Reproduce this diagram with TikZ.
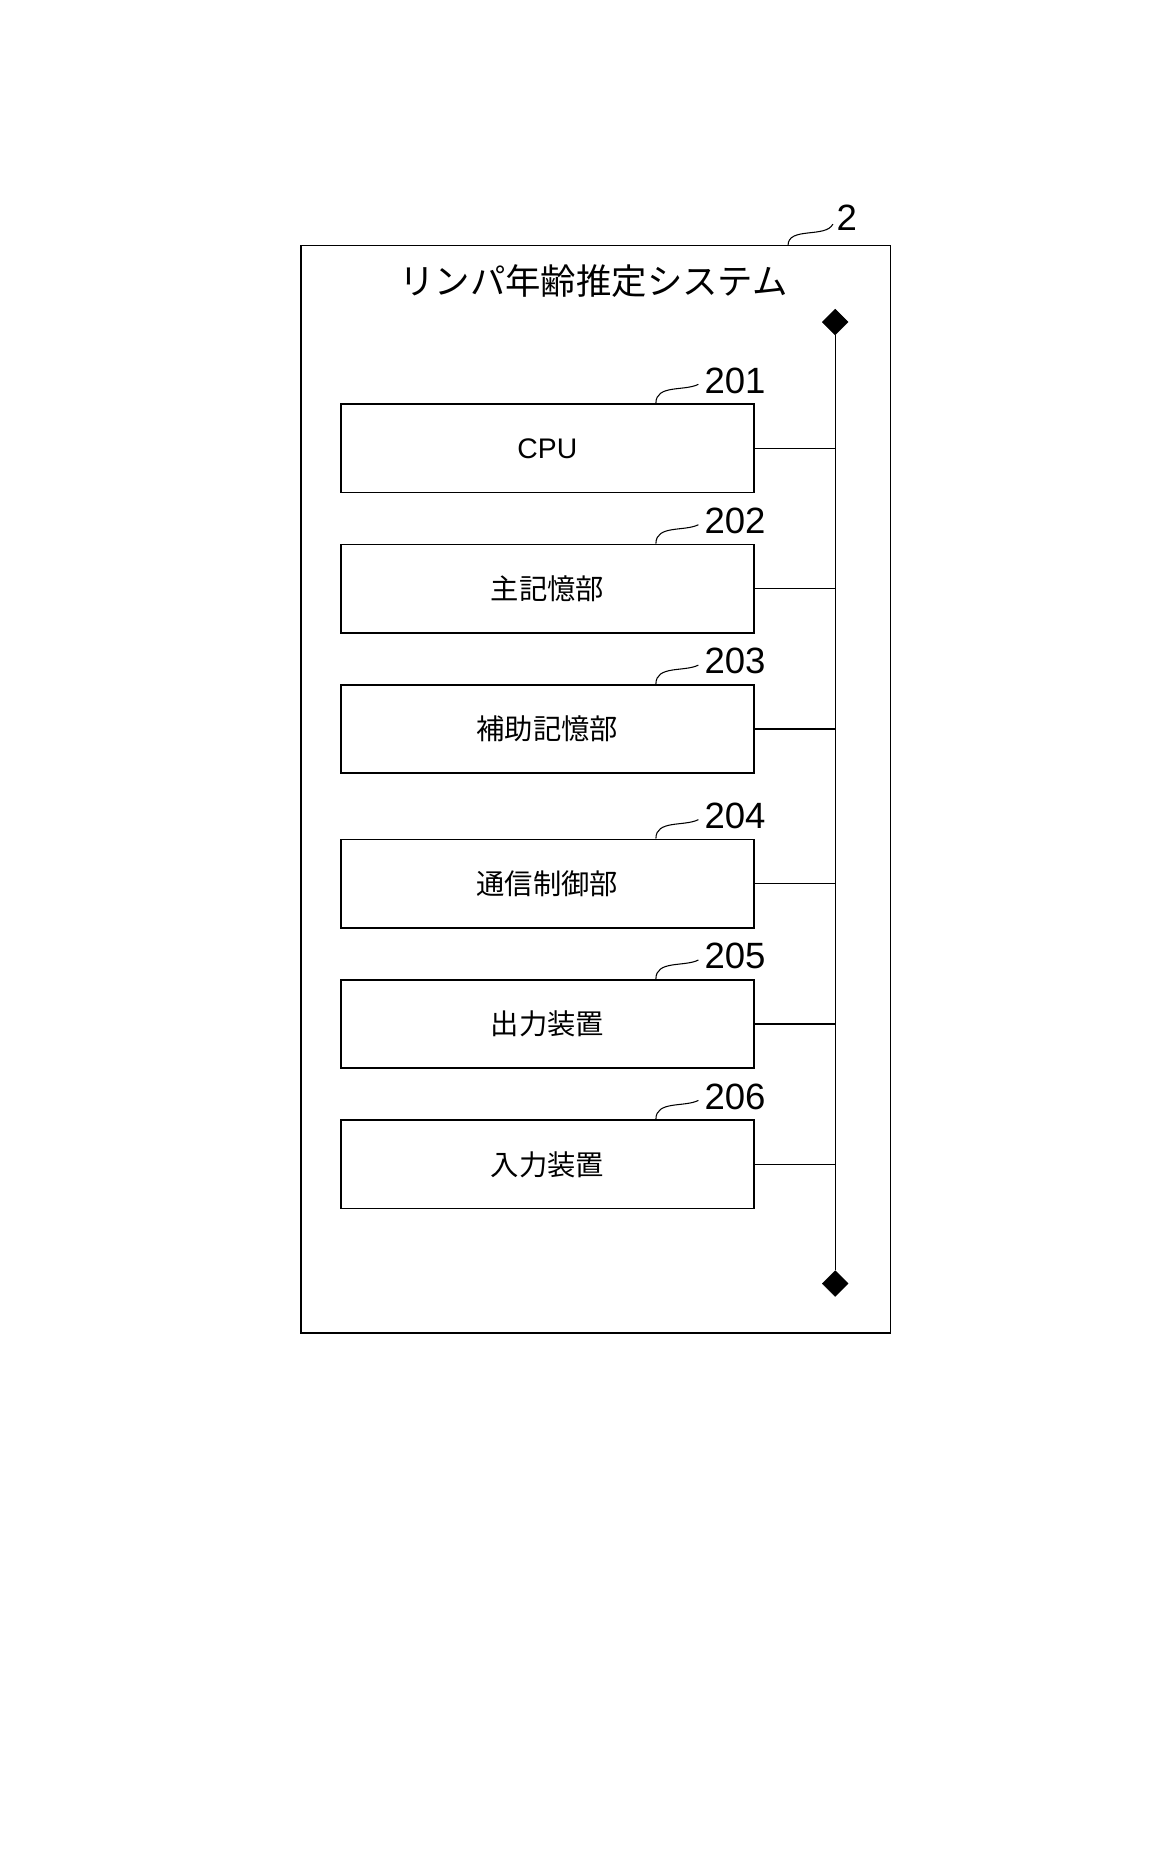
\documentclass[tikz,border=0pt]{standalone}
\usepackage{fontspec}
\setmainfont{Liberation Sans}
\newfontfamily\cjk{Noto Sans CJK JP}
\usetikzlibrary{positioning,shapes.geometric}

\begin{document}
\begin{tikzpicture}[
    x=1pt, y=-1pt,
    unit/.style={draw, line width=1.4pt, minimum width=350pt, minimum height=75pt, inner sep=0pt, font=\cjk\fontsize{24}{26}\selectfont},
    refnum/.style={font=\fontsize{31}{33}\selectfont, inner sep=1pt},
    tick/.style={draw, line width=0.9pt},
    link/.style={draw, line width=1pt},
    busend/.style={diamond, fill=black, draw, inner sep=0pt, minimum size=22pt}
]
\useasboundingbox (0,0) rectangle (975,1575);

% Outer system frame
\node[draw, line width=1.4pt, minimum width=500pt, minimum height=922pt, inner sep=0pt] (sys) at (505,669) {};
\node[font=\cjk\fontsize{30}{32}\selectfont] (title) at (503,238) {リンパ年齢推定システム};
\node[refnum, anchor=south west] (sysnum) at (708,197) {2};
\draw[tick] (668,208) .. controls (668,192) and (700,202) .. (706,190);

% Bus
\node[busend] (top) at (708,273) {};
\node[busend] (bot) at (708,1088) {};
\draw[link] (top) -- (bot);

% Units
\node[unit] (cpu) at (464,380) {\fontspec{Liberation Sans}CPU};
\node[unit] (main) at (464,499) {主記憶部};
\node[unit] (aux) at (464,618) {補助記憶部};
\node[unit] (comm) at (464,749) {通信制御部};
\node[unit] (out) at (464,868) {出力装置};
\node[unit] (in) at (464,987) {入力装置};

% Reference numbers
\foreach \u/\n in {cpu/201, main/202, aux/203, comm/204, out/205, in/206} {
  \node[refnum, anchor=south west] (\u num) at ([xshift=132pt,yshift=7pt]\u.north) {\n};
  \draw[tick] ([xshift=92pt]\u.north) .. controls ++(0,-16) and ++(-12,6) .. ++(36,-16);
  \draw[link] (\u.east) -- (top |- \u.east);
}
\end{tikzpicture}
\end{document}
